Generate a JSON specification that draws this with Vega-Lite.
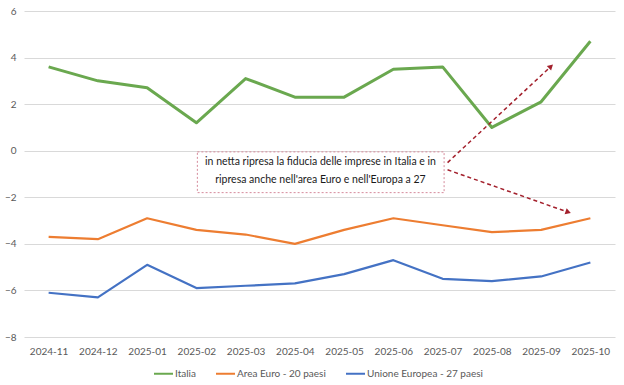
{
  "$schema": "https://vega.github.io/schema/vega-lite/v6.json",
  "width": 591,
  "height": 326,
  "autosize": "none",
  "padding": {"left": 24, "top": 11, "right": 9, "bottom": 48},
  "background": "white",
  "config": {
    "view": {"stroke": null},
    "font": "Lato",
    "axis": {"labelFont": "Lato", "labelColor": "#595959", "labelFontSize": 10, "gridColor": "#d9d9d9", "gridWidth": 1, "domain": false, "ticks": false, "title": null},
    "legend": {"labelFont": "Lato", "labelColor": "#595959", "labelFontSize": 10}
  },
  "datasets": {
    "serie": [
      {"mese": "2024-11", "serie": "Italia", "valore": 3.6},
      {"mese": "2024-12", "serie": "Italia", "valore": 3.0},
      {"mese": "2025-01", "serie": "Italia", "valore": 2.7},
      {"mese": "2025-02", "serie": "Italia", "valore": 1.2},
      {"mese": "2025-03", "serie": "Italia", "valore": 3.1},
      {"mese": "2025-04", "serie": "Italia", "valore": 2.3},
      {"mese": "2025-05", "serie": "Italia", "valore": 2.3},
      {"mese": "2025-06", "serie": "Italia", "valore": 3.5},
      {"mese": "2025-07", "serie": "Italia", "valore": 3.6},
      {"mese": "2025-08", "serie": "Italia", "valore": 1.0},
      {"mese": "2025-09", "serie": "Italia", "valore": 2.1},
      {"mese": "2025-10", "serie": "Italia", "valore": 4.7},
      {"mese": "2024-11", "serie": "Area Euro - 20 paesi", "valore": -3.7},
      {"mese": "2024-12", "serie": "Area Euro - 20 paesi", "valore": -3.8},
      {"mese": "2025-01", "serie": "Area Euro - 20 paesi", "valore": -2.9},
      {"mese": "2025-02", "serie": "Area Euro - 20 paesi", "valore": -3.4},
      {"mese": "2025-03", "serie": "Area Euro - 20 paesi", "valore": -3.6},
      {"mese": "2025-04", "serie": "Area Euro - 20 paesi", "valore": -4.0},
      {"mese": "2025-05", "serie": "Area Euro - 20 paesi", "valore": -3.4},
      {"mese": "2025-06", "serie": "Area Euro - 20 paesi", "valore": -2.9},
      {"mese": "2025-07", "serie": "Area Euro - 20 paesi", "valore": -3.2},
      {"mese": "2025-08", "serie": "Area Euro - 20 paesi", "valore": -3.5},
      {"mese": "2025-09", "serie": "Area Euro - 20 paesi", "valore": -3.4},
      {"mese": "2025-10", "serie": "Area Euro - 20 paesi", "valore": -2.9},
      {"mese": "2024-11", "serie": "Unione Europea - 27 paesi", "valore": -6.1},
      {"mese": "2024-12", "serie": "Unione Europea - 27 paesi", "valore": -6.3},
      {"mese": "2025-01", "serie": "Unione Europea - 27 paesi", "valore": -4.9},
      {"mese": "2025-02", "serie": "Unione Europea - 27 paesi", "valore": -5.9},
      {"mese": "2025-03", "serie": "Unione Europea - 27 paesi", "valore": -5.8},
      {"mese": "2025-04", "serie": "Unione Europea - 27 paesi", "valore": -5.7},
      {"mese": "2025-05", "serie": "Unione Europea - 27 paesi", "valore": -5.3},
      {"mese": "2025-06", "serie": "Unione Europea - 27 paesi", "valore": -4.7},
      {"mese": "2025-07", "serie": "Unione Europea - 27 paesi", "valore": -5.5},
      {"mese": "2025-08", "serie": "Unione Europea - 27 paesi", "valore": -5.6},
      {"mese": "2025-09", "serie": "Unione Europea - 27 paesi", "valore": -5.4},
      {"mese": "2025-10", "serie": "Unione Europea - 27 paesi", "valore": -4.8}
    ],
    "box": [{"x1": 3.02, "x2": 8.03, "y1": -0.05, "y2": -1.8}],
    "testo": [
      {"x": 5.52, "y": -0.5, "riga": "in netta ripresa la fiducia delle imprese in Italia e in"},
      {"x": 5.52, "y": -1.24, "riga": "ripresa anche nell'area Euro e nell'Europa a 27"}
    ],
    "frecce": [
      {"x": 8.1, "y": -0.51, "xe": 10.2, "ye": 3.62, "ang": 47},
      {"x": 8.1, "y": -0.82, "xe": 10.55, "ye": -2.64, "ang": 109}
    ]
  },
  "resolve": {"scale": {"x": "independent"}},
  "layer": [
    {
      "data": {"name": "serie"},
      "mark": {"type": "line", "strokeJoin": "round"},
      "encoding": {
        "x": {"field": "mese", "type": "ordinal", "scale": {"type": "point", "padding": 0.5},
              "axis": {"labelAngle": 0, "labelPadding": 9, "grid": false, "title": null}},
        "y": {"field": "valore", "type": "quantitative",
              "scale": {"domain": [-8, 6], "nice": false, "zero": false},
              "axis": {"values": [-8, -6, -4, -2, 0, 2, 4, 6], "labelPadding": 8, "grid": true, "title": null}},
        "color": {"field": "serie", "type": "nominal",
                  "scale": {"domain": ["Italia", "Area Euro - 20 paesi", "Unione Europea - 27 paesi"],
                            "range": ["#6aa84f", "#ed7d31", "#4472c4"]},
                  "legend": {"orient": "none", "legendX": 129, "legendY": 352, "direction": "horizontal", "title": null, "symbolType": "stroke",
                             "symbolStrokeWidth": 2, "symbolSize": 361, "columnPadding": 16, "labelOffset": 1}},
        "strokeWidth": {"condition": {"test": "datum.serie === 'Italia'", "value": 3}, "value": 2.2}
      }
    },
    {
      "layer": [
        {
          "data": {"name": "box"},
          "mark": {"type": "rect", "fill": "white", "stroke": "#d58a9b", "strokeWidth": 1, "strokeDash": [2, 2]},
          "encoding": {
            "x": {"field": "x1", "type": "quantitative", "scale": {"domain": [-0.5, 11.5], "nice": false, "zero": false}, "axis": null},
            "x2": {"field": "x2"},
            "y": {"field": "y1", "type": "quantitative", "axis": {"title": null}},
            "y2": {"field": "y2"}
          }
        },
        {
          "data": {"name": "testo"},
          "mark": {"type": "text", "align": "center", "baseline": "middle", "fontSize": 10.5, "color": "#1a1a1a", "font": "Lato"},
          "encoding": {
            "x": {"field": "x", "type": "quantitative", "axis": null},
            "y": {"field": "y", "type": "quantitative", "axis": {"title": null}},
            "text": {"field": "riga"}
          }
        },
        {
          "data": {"name": "frecce"},
          "mark": {"type": "rule", "color": "#a3202c", "strokeWidth": 1.5, "strokeDash": [4, 3]},
          "encoding": {
            "x": {"field": "x", "type": "quantitative", "axis": null},
            "y": {"field": "y", "type": "quantitative", "axis": {"title": null}},
            "x2": {"field": "xe"},
            "y2": {"field": "ye"}
          }
        },
        {
          "data": {"name": "frecce"},
          "mark": {"type": "point", "shape": "triangle-up", "filled": true, "color": "#a3202c", "size": 40, "opacity": 1},
          "encoding": {
            "x": {"field": "xe", "type": "quantitative", "axis": null},
            "y": {"field": "ye", "type": "quantitative", "axis": {"title": null}},
            "angle": {"field": "ang", "type": "quantitative", "scale": null}
          }
        }
      ]
    }
  ]
}
